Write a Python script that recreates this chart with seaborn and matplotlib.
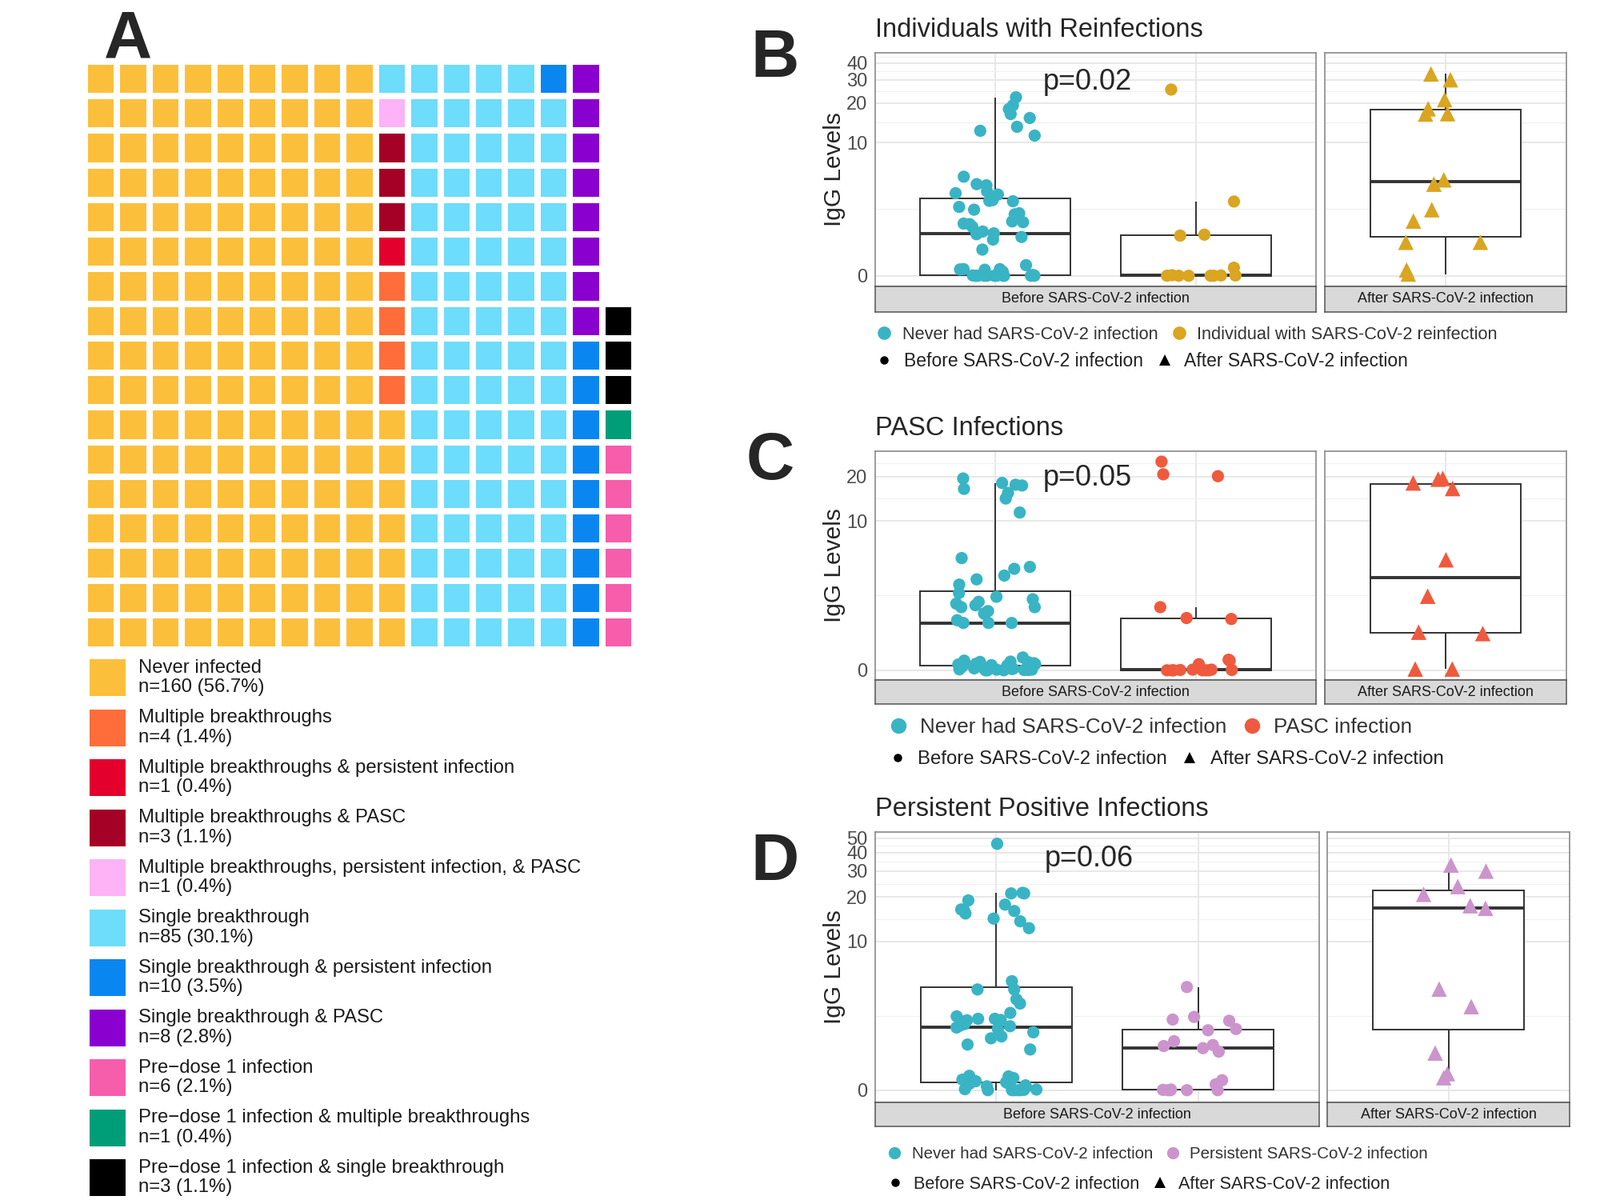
import matplotlib.pyplot as plt
import numpy as np
import pandas as pd
import seaborn as sns
from matplotlib.colors import ListedColormap
from matplotlib.lines import Line2D
from matplotlib.patches import Rectangle

W, H = 2000, 1500

# ---- panel A: waffle ----
waffle_labels = [
    "Never infected",
    "Multiple breakthroughs",
    "Multiple breakthroughs & persistent infection",
    "Multiple breakthroughs & PASC",
    "Multiple breakthroughs, persistent infection, & PASC",
    "Single breakthrough",
    "Single breakthrough & persistent infection",
    "Single breakthrough & PASC",
    "Pre\u2212dose 1 infection",
    "Pre\u2212dose 1 infection & multiple breakthroughs",
    "Pre\u2212dose 1 infection & single breakthrough",
]
waffle_counts = [160, 4, 1, 3, 1, 85, 10, 8, 6, 1, 3]
waffle_colors = [
    "#FCBF3C", "#FF6E3A", "#E3002C", "#A50026", "#FDB3F5", "#6EDCFB",
    "#0A86F0", "#8A00CF", "#F65EAC", "#009E78", "#000000",
]
waffle_rows = 17

# ---- panels B-D: IgG levels ----
b_never = [22.1, 19.2, 18.0, 16.5, 15.4, 13.2, 12.3, 11.3,
           5.4, 4.7, 4.6, 4.1, 3.95, 3.85, 3.45, 3.4, 3.37, 3.0, 2.83, 2.62,
           2.56, 2.18, 2.14, 2.07, 2.04, 1.91, 1.69, 1.61, 1.57, 1.45, 1.34, 0.94,
           0.37, 0.23, 0.23, 0.22, 0.21, 0.14, 0.0, 0.0, 0.01, 0.0, 0.02, 0.0,
           0.01, 0.0, 0.03, 0.0, 0.0, 0.02, 0.0, 0.01, 0.0, 0.0, 0.02, 0.0]
b_case_before = [25.3, 3.35, 1.55, 1.51, 0.28, 0.0, 0.0, 0.01, 0.0, 0.02, 0.0, 0.0, 0.01]
b_case_after = [33.2, 30.0, 21.2, 18.1, 16.6, 16.5, 5.1, 4.7, 2.83, 2.2, 1.23, 1.23, 0.2, 0.06]

c_never = [19.4, 18.1, 17.6, 17.4, 16.5, 15.5, 14.2, 11.4,
           5.5, 4.75, 4.6, 4.1, 3.84, 3.5, 3.0, 2.8, 2.67, 2.54, 2.45, 2.37,
           2.28, 2.28, 2.1, 2.0, 1.97, 1.71, 1.6, 1.6, 1.6,
           0.4, 0.3, 0.27, 0.26, 0.25, 0.24, 0.22, 0.2, 0.19, 0.18, 0.17, 0.16,
           0.15, 0.12, 0.1, 0.08, 0.06, 0.05, 0.04, 0.03, 0.02, 0.02, 0.01, 0.01,
           0.0, 0.0, 0.0]
c_case_before = [25.2, 20.7, 20.1, 2.28, 1.8, 1.76, 0.33, 0.30, 0.19,
                 0.0, 0.01, 0.0, 0.02, 0.0, 0.0, 0.01, 0.0, 0.0, 0.02]
c_case_after = [19.4, 19.2, 18.1, 16.6, 5.35, 2.83, 1.25, 1.2, 0.04, 0.04]

d_never = [45.9, 21.4, 21.2, 21.2, 19.0, 17.8, 16.5, 16.4, 16.1, 15.5, 14.3, 13.7, 12.3,
           5.25, 4.57, 4.57, 3.86, 3.58, 3.02, 2.83, 2.7, 2.7, 2.64, 2.62, 2.56,
           2.43, 2.35, 2.33, 2.27, 2.2, 2.05, 1.87, 1.79, 1.54, 1.35,
           0.45, 0.43, 0.38, 0.33, 0.31, 0.28, 0.25, 0.22, 0.2, 0.15, 0.12, 0.1,
           0.06, 0.03, 0.02, 0.01, 0.0, 0.0, 0.0, 0.0, 0.0]
d_case_before = [4.76, 2.8, 2.66, 2.6, 2.2, 2.14, 1.67, 1.52, 1.48, 1.4, 1.27,
                 0.31, 0.18, 0.0, 0.0, 0.01, 0.0, 0.0, 0.02]
d_case_after = [33.0, 30.0, 23.6, 20.9, 17.5, 16.8, 4.6, 3.39, 1.22, 0.52, 0.39]

b_ticks = [0, 10, 20, 30, 40]
c_ticks = [0, 10, 20]
d_ticks = [0, 10, 20, 30, 40, 50]

TEAL = "#39B4C5"
GOLD = "#DAA520"
TOMATO = "#EF5A3E"
PLUM = "#CC94CC"
LINE = "#333333"
BORDER = "#8A8A8A"
LETTER_FONT = ["Liberation Sans Narrow", "Liberation Sans", "DejaVu Sans"]


def frac(x0, y0, x1, y1):
    # pixel box, origin top-left -> figure rect
    return [x0 / W, 1 - y1 / H, (x1 - x0) / W, (y1 - y0) / H]


def plog(v):
    # pseudo-log transform, sigma = 1
    return np.arcsinh(np.asarray(v, dtype=float) / 2)


def draw_facet(ax, groups, marker, msize, ylim, ticks, show_y):
    df = pd.concat(
        [pd.DataFrame({"group": name, "u": plog(vals)}) for name, vals, _ in groups],
        ignore_index=True,
    )
    order = [g[0] for g in groups]
    palette = {g[0]: g[2] for g in groups}
    sns.boxplot(data=df, x="group", y="u", order=order, ax=ax, width=0.75,
                color="white", linecolor=LINE, linewidth=1.4, showfliers=False,
                medianprops={"linewidth": 2.8}, capprops={"linewidth": 0}, zorder=2)
    sns.stripplot(data=df, x="group", y="u", order=order, hue="group",
                  palette=palette, marker=marker, size=msize, jitter=0.2,
                  linewidth=0, ax=ax, legend=False, zorder=3)
    n = len(order)
    ax.set_xlim(-0.6, n - 1 + 0.6)
    ax.set_ylim(*ylim)
    ax.set_xlabel("")
    ax.set_ylabel("")
    ax.set_xticks(range(n))
    ax.set_xticklabels([])
    ax.tick_params(axis="x", length=0)
    major = plog(ticks)
    ext = list(major) + [plog(ticks[-1] + 10)]
    minor = [(a + b) / 2 for a, b in zip(ext[:-1], ext[1:])]
    ax.set_yticks(major)
    ax.set_yticks(minor, minor=True)
    if show_y:
        ax.set_yticklabels([str(t) for t in ticks], fontsize=17, color="#4D4D4D")
        ax.tick_params(axis="y", which="major", length=5, width=1.1, color=LINE, pad=2)
    else:
        ax.set_yticklabels([])
        ax.tick_params(axis="y", which="major", length=0)
    ax.tick_params(axis="y", which="minor", length=0)
    ax.set_axisbelow(True)
    ax.grid(True, which="major", color="#E6E6E6", linewidth=1.3)
    ax.grid(True, which="minor", axis="y", color="#F0F0F0", linewidth=0.8)
    for s in ax.spines.values():
        s.set_color(BORDER)
        s.set_linewidth(1.2)
    return n


def draw_strip(fig, x0, x1, y0, y1, label, n):
    sx = fig.add_axes(frac(x0, y0, x1, y1))
    sx.set_facecolor("#D9D9D9")
    sx.set_xlim(-0.6, n - 1 + 0.6)
    sx.set_ylim(0, 1)
    sx.set_yticks([])
    sx.set_xticks(range(n))
    sx.set_xticklabels([])
    sx.tick_params(axis="x", length=5, width=1.1, color=LINE)
    for s in sx.spines.values():
        s.set_color("#555555")
        s.set_linewidth(1.1)
    sx.text(0.5, 0.5, label, transform=sx.transAxes, ha="center", va="center",
            fontsize=13, color="#1A1A1A")


def igg_panel(fig, cfg):
    top, bottom, strip_bottom = cfg["rows"]
    bx0, bx1, ax0, ax1 = cfg["cols"]
    ax_b = fig.add_axes(frac(bx0, top, bx1, bottom))
    ax_a = fig.add_axes(frac(ax0, top, ax1, bottom))
    nb = draw_facet(ax_b, [("never", cfg["never"], TEAL), ("case", cfg["before"], cfg["color"])],
                    "o", 11, cfg["ylim"], cfg["ticks"], True)
    na = draw_facet(ax_a, [("after", cfg["after"], cfg["color"])],
                    "^", 14, cfg["ylim"], cfg["ticks"], False)
    draw_strip(fig, bx0, bx1, bottom, strip_bottom, "Before SARS-CoV-2 infection", nb)
    draw_strip(fig, ax0, ax1, bottom, strip_bottom, "After SARS-CoV-2 infection", na)
    ax_b.text(0.46, cfg["p_u"], cfg["p"], ha="center", va="center", fontsize=26)
    fig.text(bx0 / W, 1 - cfg["title_y"] / H, cfg["title"], fontsize=23.5,
             ha="left", va="center")
    fig.text(1043 / W, 1 - (top + bottom) / 2 / H, "IgG Levels", rotation=90,
             fontsize=21.5, ha="center", va="center")
    fig.text(cfg["letter"][0] / W, 1 - cfg["letter"][1] / H, cfg["letter"][2],
             fontsize=60, fontweight="bold", family=LETTER_FONT, ha="center", va="center")

    fs1, fs2 = cfg["legend_fs"]
    ms1 = cfg["legend_ms"]
    h1 = [Line2D([], [], marker="o", ls="", color=TEAL, markersize=ms1, markeredgewidth=0),
          Line2D([], [], marker="o", ls="", color=cfg["color"], markersize=ms1, markeredgewidth=0)]
    leg1 = fig.legend(h1, ["Never had SARS-CoV-2 infection", cfg["case_label"]],
                      loc="center left", bbox_to_anchor=(cfg["legend_x"] / W, 1 - cfg["legend_y"][0] / H),
                      ncol=2, frameon=False, fontsize=fs1, handlelength=1.0,
                      handletextpad=0.55, columnspacing=0.7, borderpad=0, borderaxespad=0)
    for t in leg1.get_texts():
        t.set_color("#333333")
    h2 = [Line2D([], [], marker="o", ls="", color="black", markersize=7.5, markeredgewidth=0),
          Line2D([], [], marker="^", ls="", color="black", markersize=10, markeredgewidth=0)]
    leg2 = fig.legend(h2, ["Before SARS-CoV-2 infection", "After SARS-CoV-2 infection"],
                      loc="center left", bbox_to_anchor=(cfg["legend_x"] / W, 1 - cfg["legend_y"][1] / H),
                      ncol=2, frameon=False, fontsize=fs2, handlelength=1.0,
                      handletextpad=0.55, columnspacing=0.7, borderpad=0, borderaxespad=0)
    for t in leg2.get_texts():
        t.set_color("#222222")


sns.set_style("white")
plt.rcParams["font.family"] = ["Liberation Sans", "DejaVu Sans"]

fig = plt.figure(figsize=(W / 100, H / 100), dpi=100)

# waffle grid, filled column by column from the bottom
total = sum(waffle_counts)
ncols = int(np.ceil(total / waffle_rows))
grid = np.full((waffle_rows, ncols), np.nan)
cats = np.repeat(np.arange(len(waffle_counts)), waffle_counts)
for i, cat in enumerate(cats):
    grid[waffle_rows - 1 - i % waffle_rows, i // waffle_rows] = cat

ax_w = fig.add_axes(frac(106, 77, 793, 812))
sns.heatmap(grid, ax=ax_w, cmap=ListedColormap(waffle_colors), vmin=-0.5,
            vmax=len(waffle_colors) - 0.5, cbar=False, linewidths=4.5,
            linecolor="white", xticklabels=False, yticklabels=False)
ax_w.set_axis_off()
fig.text(160 / W, 1 - 50 / H, "A", fontsize=60, fontweight="bold", family=LETTER_FONT,
         ha="center", va="center")

# waffle legend
ax_l = fig.add_axes([0, 0, 1, 1], zorder=-1)
ax_l.set_xlim(0, W)
ax_l.set_ylim(H, 0)
ax_l.set_axis_off()
for k, (lab, cnt, col) in enumerate(zip(waffle_labels, waffle_counts, waffle_colors)):
    cy = 847 + k * 62.5
    ax_l.add_patch(Rectangle((112, cy - 23), 45, 46, color=col, lw=0))
    ax_l.text(173, cy, f"{lab}\nn={cnt} ({cnt / total * 100:.1f}%)", fontsize=17.2,
              color="#1A1A1A", ha="left", va="center", linespacing=1.15)

panels = [
    dict(rows=(66, 358, 390), cols=(1094, 1645, 1656, 1958), never=b_never,
         before=b_case_before, after=b_case_after, color=GOLD, ylim=(-0.185, 3.87),
         ticks=b_ticks, p="p=0.02", p_u=3.37, title="Individuals with Reinfections",
         title_y=38, letter=(969, 74, "B"), case_label="Individual with SARS-CoV-2 reinfection",
         legend_x=1094, legend_y=(418, 452), legend_fs=(15.7, 16.5), legend_ms=12),
    dict(rows=(564, 850, 880), cols=(1094, 1645, 1656, 1958), never=c_never,
         before=c_case_before, after=c_case_after, color=TOMATO, ylim=(-0.15, 3.39),
         ticks=c_ticks, p="p=0.05", p_u=2.97, title="PASC Infections",
         title_y=536, letter=(963, 577, "C"), case_label="PASC infection",
         legend_x=1110, legend_y=(909, 949), legend_fs=(18.7, 17.2), legend_ms=14),
    dict(rows=(1040, 1378, 1408), cols=(1094, 1649, 1659, 1962), never=d_never,
         before=d_case_before, after=d_case_after, color=PLUM, ylim=(-0.19, 4.01),
         ticks=d_ticks, p="p=0.06", p_u=3.59, title="Persistent Positive Infections",
         title_y=1011, letter=(969, 1078, "D"), case_label="Persistent SARS-CoV-2 infection",
         legend_x=1108, legend_y=(1443, 1480), legend_fs=(14.8, 15.6), legend_ms=11),
]
for cfg in panels:
    igg_panel(fig, cfg)

fig.savefig("out.png", dpi=100)
